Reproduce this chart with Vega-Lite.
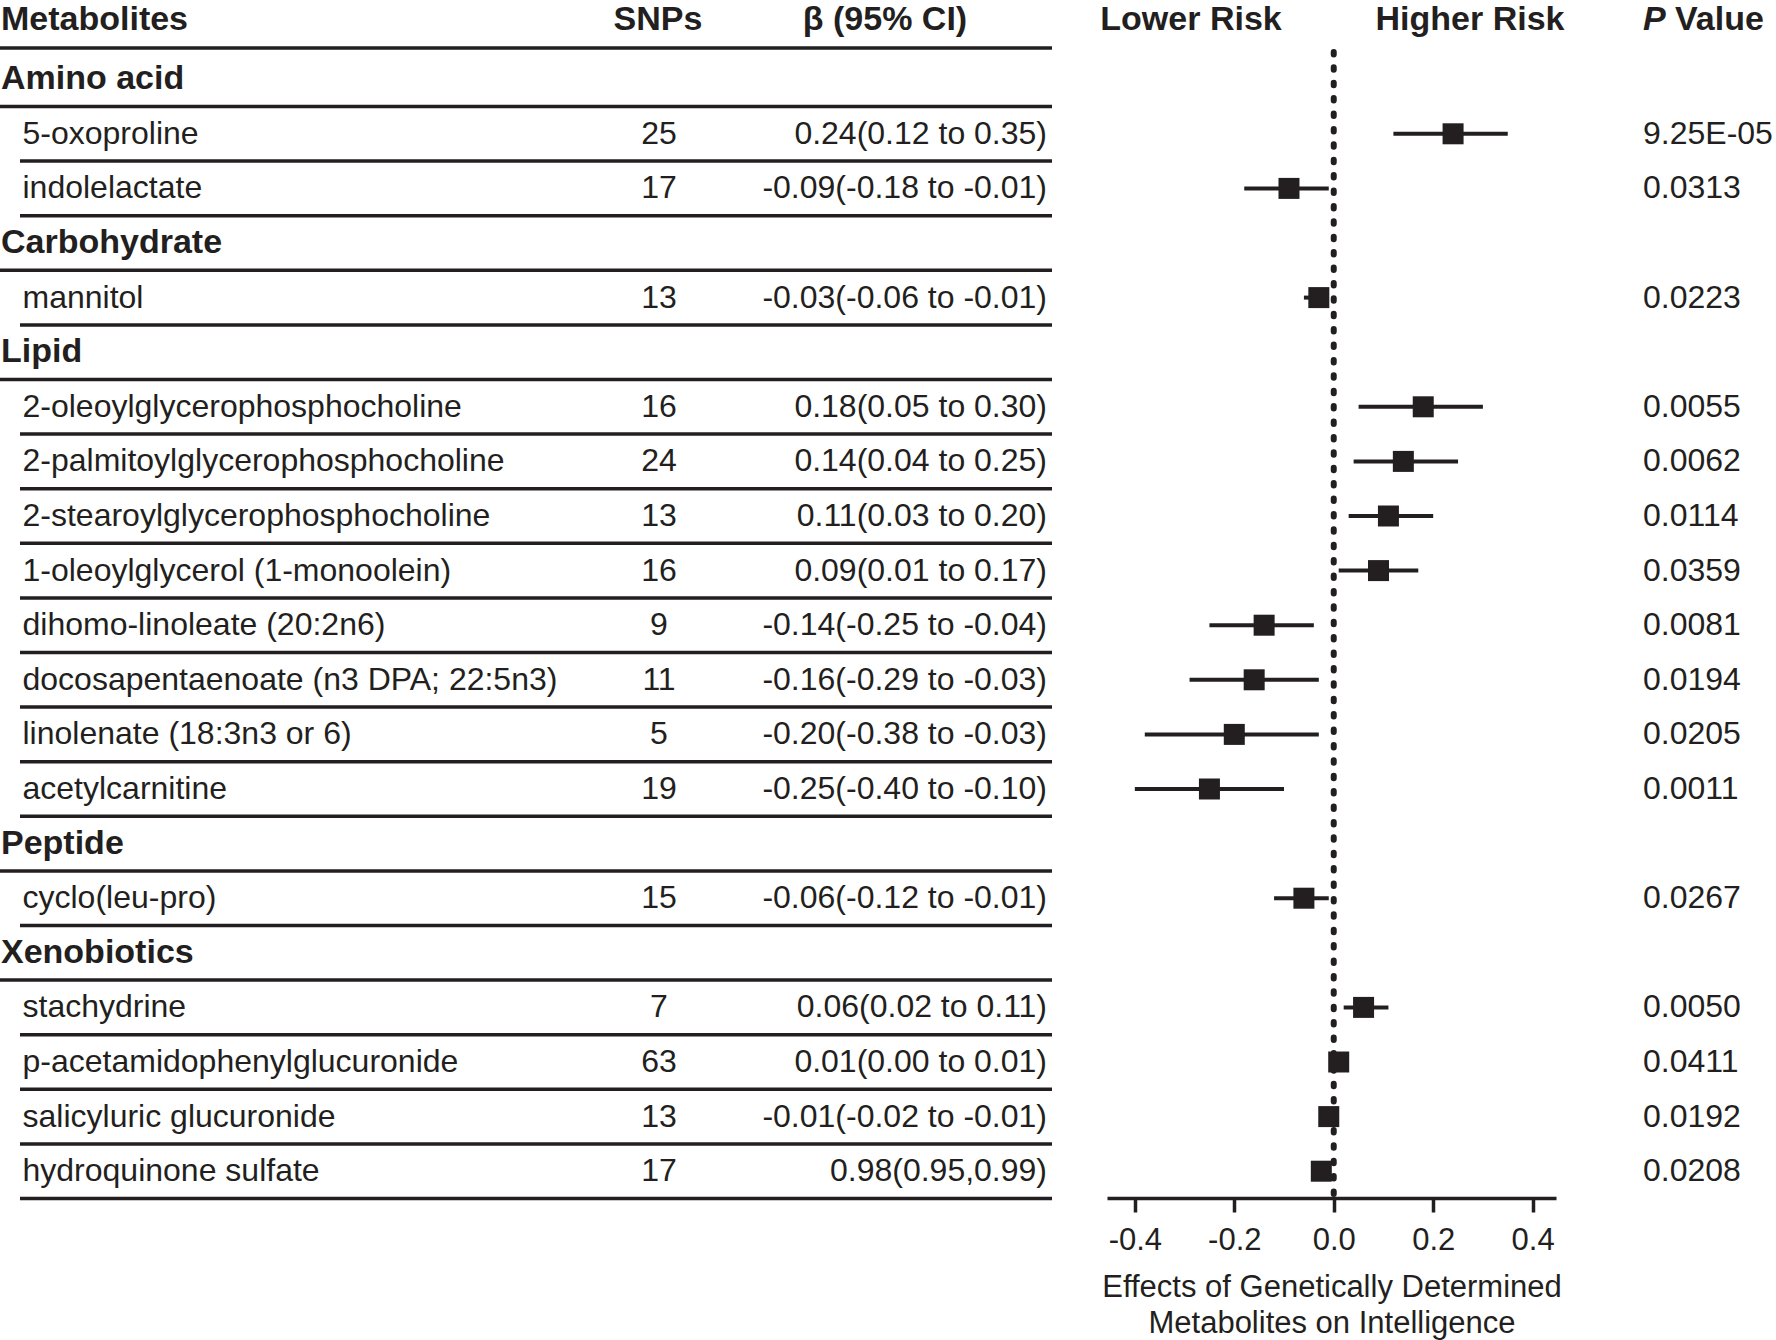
{
  "$schema": "https://vega.github.io/schema/vega-lite/v6.json",
  "width": 1776,
  "height": 1340,
  "autosize": {"type": "none"},
  "padding": 0,
  "background": "white",
  "config": {
    "view": {"stroke": null},
    "text": {"font": "Liberation Sans", "color": "#231f20", "baseline": "middle"}
  },
  "datasets": {
    "header": [
      {"order": 0, "col": "name", "label": "Metabolites"},
      {"order": 0, "col": "snps", "label": "SNPs"},
      {"order": 0, "col": "beta", "label": "β (95% CI)"},
      {"order": 0, "col": "lower", "label": "Lower Risk"},
      {"order": 0, "col": "higher", "label": "Higher Risk"},
      {"order": 0, "col": "p", "label": "P"},
      {"order": 0, "col": "value", "label": "Value"}
    ],
    "rows": [
      {"order": 1, "kind": "group", "label": "Amino acid"},
      {"order": 2, "kind": "item", "label": "5-oxoproline", "snps": 25, "ci": "0.24(0.12 to 0.35)", "beta": 0.24, "lo": 0.12, "hi": 0.35, "p": "9.25E-05"},
      {"order": 3, "kind": "item", "label": "indolelactate", "snps": 17, "ci": "-0.09(-0.18 to -0.01)", "beta": -0.09, "lo": -0.18, "hi": -0.01, "p": "0.0313"},
      {"order": 4, "kind": "group", "label": "Carbohydrate"},
      {"order": 5, "kind": "item", "label": "mannitol", "snps": 13, "ci": "-0.03(-0.06 to -0.01)", "beta": -0.03, "lo": -0.06, "hi": -0.01, "p": "0.0223"},
      {"order": 6, "kind": "group", "label": "Lipid"},
      {"order": 7, "kind": "item", "label": "2-oleoylglycerophosphocholine", "snps": 16, "ci": "0.18(0.05 to 0.30)", "beta": 0.18, "lo": 0.05, "hi": 0.30, "p": "0.0055"},
      {"order": 8, "kind": "item", "label": "2-palmitoylglycerophosphocholine", "snps": 24, "ci": "0.14(0.04 to 0.25)", "beta": 0.14, "lo": 0.04, "hi": 0.25, "p": "0.0062"},
      {"order": 9, "kind": "item", "label": "2-stearoylglycerophosphocholine", "snps": 13, "ci": "0.11(0.03 to 0.20)", "beta": 0.11, "lo": 0.03, "hi": 0.20, "p": "0.0114"},
      {"order": 10, "kind": "item", "label": "1-oleoylglycerol (1-monoolein)", "snps": 16, "ci": "0.09(0.01 to 0.17)", "beta": 0.09, "lo": 0.01, "hi": 0.17, "p": "0.0359"},
      {"order": 11, "kind": "item", "label": "dihomo-linoleate (20:2n6)", "snps": 9, "ci": "-0.14(-0.25 to -0.04)", "beta": -0.14, "lo": -0.25, "hi": -0.04, "p": "0.0081"},
      {"order": 12, "kind": "item", "label": "docosapentaenoate (n3 DPA; 22:5n3)", "snps": 11, "ci": "-0.16(-0.29 to -0.03)", "beta": -0.16, "lo": -0.29, "hi": -0.03, "p": "0.0194"},
      {"order": 13, "kind": "item", "label": "linolenate (18:3n3 or 6)", "snps": 5, "ci": "-0.20(-0.38 to -0.03)", "beta": -0.20, "lo": -0.38, "hi": -0.03, "p": "0.0205"},
      {"order": 14, "kind": "item", "label": "acetylcarnitine", "snps": 19, "ci": "-0.25(-0.40 to -0.10)", "beta": -0.25, "lo": -0.40, "hi": -0.10, "p": "0.0011"},
      {"order": 15, "kind": "group", "label": "Peptide"},
      {"order": 16, "kind": "item", "label": "cyclo(leu-pro)", "snps": 15, "ci": "-0.06(-0.12 to -0.01)", "beta": -0.06, "lo": -0.12, "hi": -0.01, "p": "0.0267"},
      {"order": 17, "kind": "group", "label": "Xenobiotics"},
      {"order": 18, "kind": "item", "label": "stachydrine", "snps": 7, "ci": "0.06(0.02 to 0.11)", "beta": 0.06, "lo": 0.02, "hi": 0.11, "p": "0.0050"},
      {"order": 19, "kind": "item", "label": "p-acetamidophenylglucuronide", "snps": 63, "ci": "0.01(0.00 to 0.01)", "beta": 0.01, "lo": 0.00, "hi": 0.01, "p": "0.0411"},
      {"order": 20, "kind": "item", "label": "salicyluric glucuronide", "snps": 13, "ci": "-0.01(-0.02 to -0.01)", "beta": -0.01, "lo": -0.02, "hi": -0.01, "p": "0.0192"},
      {"order": 21, "kind": "item", "label": "hydroquinone sulfate", "snps": 17, "ci": "0.98(0.95,0.99)", "beta": -0.025, "lo": -0.045, "hi": -0.01, "p": "0.0208"}
    ]
  },
  "layer": [
    {
      "data": {"name": "rows"},
      "transform": [{"filter": "datum.kind === 'item'"}],
      "mark": {"type": "rule", "strokeWidth": 4, "color": "#231f20"},
      "encoding": {
        "y": {
          "field": "order",
          "type": "ordinal",
          "scale": {"type": "band", "domain": [0,1,2,3,4,5,6,7,8,9,10,11,12,13,14,15,16,17,18,19,20,21], "range": [-2.7, 1198.5], "paddingInner": 0, "paddingOuter": 0},
          "axis": null
        },
        "x": {
          "field": "lo",
          "type": "quantitative",
          "scale": {"domain": [-0.456, 0.447], "range": [1107, 1556], "nice": false, "zero": false},
          "axis": {
            "orient": "bottom",
            "offset": -142,
            "values": [-0.4, -0.2, 0, 0.2, 0.4],
            "labelExpr": "(datum.value < 0 ? '-' : '') + format(abs(datum.value), '.1f')",
            "grid": false,
            "domainWidth": 3.5,
            "domainColor": "#231f20",
            "tickWidth": 3.5,
            "tickSize": 14,
            "tickColor": "#231f20",
            "labelFont": "Liberation Sans",
            "labelFontSize": 31,
            "labelColor": "#231f20",
            "labelPadding": 13,
            "labelFlush": false,
            "labelOverlap": false,
            "title": ["Effects of Genetically Determined", "Metabolites on Intelligence"],
            "titleFont": "Liberation Sans",
            "titleFontSize": 31,
            "titleFontWeight": "normal",
            "titleColor": "#231f20",
            "titlePadding": 17,
            "titleLineHeight": 36.5
          }
        },
        "x2": {"field": "hi"}
      }
    },
    {
      "data": {"name": "header"},
      "transform": [{"filter": "datum.col === 'name'"}],
      "mark": {"type": "rule", "strokeWidth": 3.5, "color": "#231f20", "yOffset": -4},
      "encoding": {
        "y": {"field": "order", "type": "ordinal", "bandPosition": 1, "axis": null},
        "x": {"value": 0},
        "x2": {"value": 1052}
      }
    },
    {
      "data": {"name": "rows"},
      "transform": [{"filter": "datum.kind === 'group'"}],
      "mark": {"type": "rule", "strokeWidth": 3.5, "color": "#231f20"},
      "encoding": {
        "y": {"field": "order", "type": "ordinal", "bandPosition": 1, "axis": null},
        "x": {"value": 0},
        "x2": {"value": 1052}
      }
    },
    {
      "data": {"name": "rows"},
      "transform": [{"filter": "datum.kind === 'item'"}],
      "mark": {"type": "rule", "strokeWidth": 3.5, "color": "#231f20"},
      "encoding": {
        "y": {"field": "order", "type": "ordinal", "bandPosition": 1, "axis": null},
        "x": {"value": 20},
        "x2": {"value": 1052}
      }
    },
    {
      "data": {"name": "header"},
      "transform": [{"filter": "datum.col === 'name'"}],
      "mark": {"type": "text", "align": "left", "fontSize": 34, "fontWeight": "bold", "dy": -5},
      "encoding": {"y": {"field": "order", "type": "ordinal", "axis": null}, "x": {"value": 1}, "text": {"field": "label"}}
    },
    {
      "data": {"name": "header"},
      "transform": [{"filter": "datum.col === 'snps'"}],
      "mark": {"type": "text", "align": "center", "fontSize": 34, "fontWeight": "bold", "dy": -5},
      "encoding": {"y": {"field": "order", "type": "ordinal", "axis": null}, "x": {"value": 658}, "text": {"field": "label"}}
    },
    {
      "data": {"name": "header"},
      "transform": [{"filter": "datum.col === 'beta'"}],
      "mark": {"type": "text", "align": "center", "fontSize": 34, "fontWeight": "bold", "dy": -5},
      "encoding": {"y": {"field": "order", "type": "ordinal", "axis": null}, "x": {"value": 885}, "text": {"field": "label"}}
    },
    {
      "data": {"name": "header"},
      "transform": [{"filter": "datum.col === 'lower'"}],
      "mark": {"type": "text", "align": "center", "fontSize": 34, "fontWeight": "bold", "dy": -5},
      "encoding": {"y": {"field": "order", "type": "ordinal", "axis": null}, "x": {"value": 1191}, "text": {"field": "label"}}
    },
    {
      "data": {"name": "header"},
      "transform": [{"filter": "datum.col === 'higher'"}],
      "mark": {"type": "text", "align": "center", "fontSize": 34, "fontWeight": "bold", "dy": -5},
      "encoding": {"y": {"field": "order", "type": "ordinal", "axis": null}, "x": {"value": 1470}, "text": {"field": "label"}}
    },
    {
      "data": {"name": "header"},
      "transform": [{"filter": "datum.col === 'p'"}],
      "mark": {"type": "text", "align": "left", "fontSize": 34, "fontWeight": "bold", "fontStyle": "italic", "dy": -5},
      "encoding": {"y": {"field": "order", "type": "ordinal", "axis": null}, "x": {"value": 1643}, "text": {"field": "label"}}
    },
    {
      "data": {"name": "header"},
      "transform": [{"filter": "datum.col === 'value'"}],
      "mark": {"type": "text", "align": "left", "fontSize": 34, "fontWeight": "bold", "dy": -5},
      "encoding": {"y": {"field": "order", "type": "ordinal", "axis": null}, "x": {"value": 1675}, "text": {"field": "label"}}
    },
    {
      "data": {"name": "rows"},
      "transform": [{"filter": "datum.kind === 'group'"}],
      "mark": {"type": "text", "align": "left", "fontSize": 34, "fontWeight": "bold"},
      "encoding": {"y": {"field": "order", "type": "ordinal", "axis": null}, "x": {"value": 1}, "text": {"field": "label"}}
    },
    {
      "data": {"name": "rows"},
      "transform": [{"filter": "datum.kind === 'item'"}],
      "mark": {"type": "text", "align": "left", "fontSize": 32},
      "encoding": {"y": {"field": "order", "type": "ordinal", "axis": null}, "x": {"value": 22.5}, "text": {"field": "label"}}
    },
    {
      "data": {"name": "rows"},
      "transform": [{"filter": "datum.kind === 'item'"}],
      "mark": {"type": "text", "align": "center", "fontSize": 32},
      "encoding": {"y": {"field": "order", "type": "ordinal", "axis": null}, "x": {"value": 659}, "text": {"field": "snps"}}
    },
    {
      "data": {"name": "rows"},
      "transform": [{"filter": "datum.kind === 'item'"}],
      "mark": {"type": "text", "align": "right", "fontSize": 32},
      "encoding": {"y": {"field": "order", "type": "ordinal", "axis": null}, "x": {"value": 1047}, "text": {"field": "ci"}}
    },
    {
      "data": {"name": "rows"},
      "transform": [{"filter": "datum.kind === 'item'"}],
      "mark": {"type": "text", "align": "left", "fontSize": 32},
      "encoding": {"y": {"field": "order", "type": "ordinal", "axis": null}, "x": {"value": 1643}, "text": {"field": "p"}}
    },
    {
      "data": {"name": "header"},
      "transform": [{"filter": "datum.col === 'name'"}],
      "mark": {"type": "rule", "strokeWidth": 6, "strokeCap": "round", "strokeDash": [2.5, 12.9], "color": "#231f20"},
      "encoding": {
        "x": {"datum": 0, "type": "quantitative"},
        "y": {"datum": 1, "type": "ordinal", "bandPosition": 0, "axis": null},
        "y2": {"datum": 21, "bandPosition": 1}
      }
    },
    {
      "data": {"name": "rows"},
      "transform": [{"filter": "datum.kind === 'item'"}],
      "mark": {"type": "point", "shape": "square", "filled": true, "opacity": 1, "size": 441, "color": "#231f20"},
      "encoding": {
        "y": {"field": "order", "type": "ordinal", "axis": null},
        "x": {"field": "beta", "type": "quantitative"}
      }
    }
  ]
}
